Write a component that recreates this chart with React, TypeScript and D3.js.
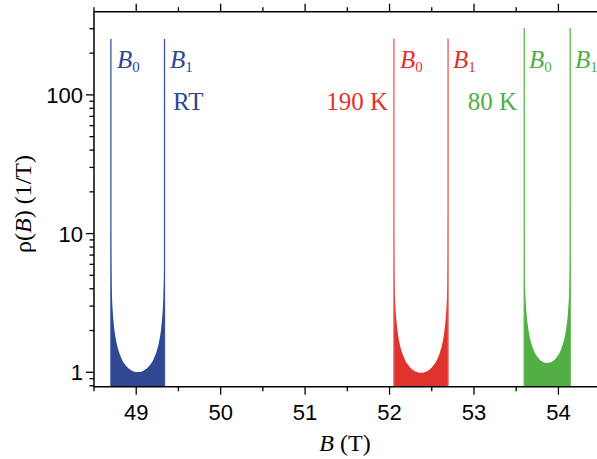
import React, { useEffect, useRef } from 'react'
import * as d3 from 'd3'

// field values (T) and distribution rho(B) (1/T)
const fieldRT = [48.7006, 48.7025, 48.7064, 48.7127, 48.7191, 48.7318, 48.7445, 48.7635, 48.7953, 48.827, 48.8905, 48.954, 49.0175, 49.081, 49.1445, 49.208, 49.2398, 49.2715, 49.2906, 49.3033, 49.316, 49.3223, 49.3287, 49.3325, 49.3344]
const rhoRT = [15.86, 7.94, 5.04, 3.58, 2.94, 2.30, 1.965, 1.671, 1.404, 1.253, 1.094, 1.023, 1.003, 1.023, 1.094, 1.253, 1.404, 1.671, 1.965, 2.30, 2.94, 3.58, 5.04, 7.94, 15.86]

const field190 = [52.0526, 52.0546, 52.0584, 52.0648, 52.0712, 52.0841, 52.0969, 52.1161, 52.1482, 52.1802, 52.2443, 52.3084, 52.3725, 52.4366, 52.5007, 52.5648, 52.5969, 52.6289, 52.6481, 52.661, 52.6738, 52.6802, 52.6866, 52.6904, 52.6924]
const rho190 = [15.71, 7.87, 4.99, 3.55, 2.91, 2.28, 1.947, 1.655, 1.391, 1.241, 1.083, 1.014, 0.993, 1.014, 1.083, 1.241, 1.391, 1.655, 1.947, 2.28, 2.91, 3.55, 4.99, 7.87, 15.71]

const field80 = [53.5955, 53.5972, 53.6005, 53.6059, 53.6114, 53.6223, 53.6332, 53.6495, 53.6768, 53.704, 53.7585, 53.813, 53.8675, 53.922, 53.9765, 54.031, 54.0583, 54.0855, 54.1019, 54.1128, 54.1237, 54.1291, 54.1346, 54.1378, 54.1395]
const rho80 = [18.48, 9.25, 5.87, 4.17, 3.42, 2.68, 2.29, 1.947, 1.636, 1.460, 1.274, 1.192, 1.168, 1.192, 1.274, 1.460, 1.636, 1.947, 2.29, 2.68, 3.42, 4.17, 5.87, 9.25, 18.48]

const edgeB0 = [48.70, 52.052, 53.595]
const edgeB1 = [49.335, 52.693, 54.14]
const edgeTop = [253, 255, 304]
const tempLabels = ['RT', '190 K', '80 K']

const xTicks = [49, 50, 51, 52, 53, 54]
const xMinor = [48.5, 49.5, 50.5, 51.5, 52.5, 53.5]
const yTicks = [1, 10, 100]
const yMinor = [0.8, 0.9, 2, 3, 4, 5, 6, 7, 8, 9, 20, 30, 40, 50, 60, 70, 80, 90, 200, 300]

const W = 597
const H = 459
const left = 94, right = 597, top = 11.7, bottom = 386.7

function drawChart(el: SVGSVGElement) {
    const svg = d3.select(el)
    svg.selectAll('*').remove()

    const x = d3.scaleLinear().domain([48.5, 54.457]).range([left, right])
    const y = d3.scaleLog().domain([0.787, 398]).range([bottom, top])

    const series = [
        { B: fieldRT, rho: rhoRT, fill: '#2f4891', line: '#3551a0' },
        { B: field190, rho: rho190, fill: '#e0332d', line: '#e95a55' },
        { B: field80, rho: rho80, fill: '#52af44', line: '#5cb64e' },
    ]
    const labelPos = [
        { b0: 117, b1: 170, tx: 173, anchor: 'start' },
        { b0: 400, b1: 453, tx: 388, anchor: 'end' },
        { b0: 529, b1: 575, tx: 517, anchor: 'end' },
    ]

    const area = d3.area<[number, number]>()
        .x(d => x(d[0]))
        .y0(y(0.787))
        .y1(d => y(d[1]))
        .curve(d3.curveMonotoneX)

    series.forEach((s, i) => {
        const pts: [number, number][] = s.B.map((b, j) => [b, s.rho[j]])
        svg.append('path').attr('d', area(pts)).attr('fill', s.fill)
        ;[edgeB0[i], edgeB1[i]].forEach(b => {
            svg.append('line')
                .attr('x1', x(b)).attr('x2', x(b))
                .attr('y1', bottom).attr('y2', y(edgeTop[i]))
                .attr('stroke', s.line).attr('stroke-width', 1.3)
        })
        const lp = labelPos[i]
        ;[[lp.b0, '0'], [lp.b1, '1']].forEach(([px, sub]) => {
            const t = svg.append('text')
                .attr('x', px).attr('y', 68)
                .attr('font-family', 'Liberation Serif, Times New Roman, serif')
                .attr('font-size', 25).attr('fill', s.fill)
            t.append('tspan').attr('font-style', 'italic').text('B')
            t.append('tspan').attr('font-size', 15).attr('dy', 4).text(sub as string)
        })
        svg.append('text')
            .attr('x', lp.tx).attr('y', 110)
            .attr('text-anchor', lp.anchor)
            .attr('font-family', 'Liberation Serif, Times New Roman, serif')
            .attr('font-size', 25).attr('fill', s.fill)
            .text(tempLabels[i])
    })

    const axisColor = '#000'
    // frame lines
    svg.append('line').attr('x1', left).attr('x2', right).attr('y1', bottom).attr('y2', bottom)
        .attr('stroke', axisColor).attr('stroke-width', 1.5)
    svg.append('line').attr('x1', left).attr('x2', right).attr('y1', top).attr('y2', top)
        .attr('stroke', axisColor).attr('stroke-width', 1.5)
    svg.append('line').attr('x1', left).attr('x2', left).attr('y1', top - 0.75).attr('y2', bottom + 0.75)
        .attr('stroke', axisColor).attr('stroke-width', 1.5)

    // x ticks, bottom and top
    const tickG = svg.append('g').attr('stroke', axisColor).attr('stroke-width', 1.3)
    xTicks.forEach(v => {
        tickG.append('line').attr('x1', x(v)).attr('x2', x(v)).attr('y1', bottom).attr('y2', bottom + 8)
        tickG.append('line').attr('x1', x(v)).attr('x2', x(v)).attr('y1', top).attr('y2', top - 8)
    })
    xMinor.forEach(v => {
        tickG.append('line').attr('x1', x(v)).attr('x2', x(v)).attr('y1', bottom).attr('y2', bottom + 4.5)
        tickG.append('line').attr('x1', x(v)).attr('x2', x(v)).attr('y1', top).attr('y2', top - 4.5)
    })
    yTicks.forEach(v => {
        tickG.append('line').attr('x1', left).attr('x2', left - 8).attr('y1', y(v)).attr('y2', y(v))
    })
    yMinor.forEach(v => {
        tickG.append('line').attr('x1', left).attr('x2', left - 4.5).attr('y1', y(v)).attr('y2', y(v))
    })

    const sans = 'Liberation Sans, Arial, sans-serif'
    xTicks.forEach(v => {
        svg.append('text').attr('x', x(v)).attr('y', 420)
            .attr('text-anchor', 'middle').attr('font-family', sans).attr('font-size', 22)
            .text(d3.format('d')(v))
    })
    yTicks.forEach(v => {
        svg.append('text').attr('x', left - 11).attr('y', y(v) + 8)
            .attr('text-anchor', 'end').attr('font-family', sans).attr('font-size', 22)
            .text(d3.format('d')(v))
    })

    const serif = 'Liberation Serif, Times New Roman, serif'
    const xt = svg.append('text').attr('x', 345).attr('y', 451)
        .attr('text-anchor', 'middle').attr('font-family', serif).attr('font-size', 24)
    xt.append('tspan').attr('font-style', 'italic').text('B')
    xt.append('tspan').text(' (T)')

    const yt = svg.append('text')
        .attr('transform', 'translate(31,204) rotate(-90)')
        .attr('text-anchor', 'middle').attr('font-family', serif).attr('font-size', 24)
    yt.append('tspan').text('ρ(')
    yt.append('tspan').attr('font-style', 'italic').text('B')
    yt.append('tspan').text(') (1/T)')
}

const App = () => {
    const ref = useRef<SVGSVGElement>(null)
    useEffect(() => {
        if (ref.current) drawChart(ref.current)
    }, [])
    return (
        <svg ref={ref} width={W} height={H}
            style={{ position: 'absolute', left: 0, top: 0, background: '#fff' }} />
    )
}

export default App
